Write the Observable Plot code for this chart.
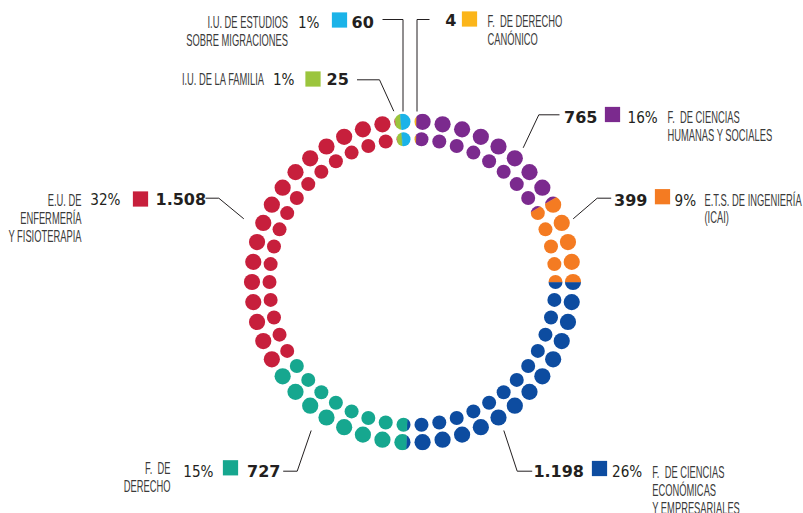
<!DOCTYPE html>
<html>
<head>
<meta charset="utf-8">
<script src="https://cdn.jsdelivr.net/npm/d3@7"></script>
<script src="https://cdn.jsdelivr.net/npm/@observablehq/plot@0.6"></script>
<style>
  html, body { margin: 0; padding: 0; background: #fff; }
  svg text { white-space: pre; }
</style>
</head>
<body>
<div id="chart"></div>
<script>
// ---------------- DATA (pie order, clockwise from 12 o'clock) ----------------
const categories = [
  "F.  DE DERECHO\nCANÓNICO",
  "F.  DE CIENCIAS\nHUMANAS Y SOCIALES",
  "E.T.S. DE INGENIERÍA\n(ICAI)",
  "F.  DE CIENCIAS\nECONÓMICAS\nY EMPRESARIALES",
  "F.  DE\nDERECHO",
  "E.U. DE\nENFERMERÍA\nY FISIOTERAPIA",
  "I.U. DE LA FAMILIA",
  "I.U. DE ESTUDIOS\nSOBRE MIGRACIONES"
];
const values = [4, 765, 399, 1198, 727, 1508, 25, 60];
const valueLabels = ["4", "765", "399", "1.198", "727", "1.508", "25", "60"];
const percentLabels = ["", "16%", "9%", "26%", "15%", "32%", "1%", "1%"];
const colors = ["#fbb51a", "#7b2a8e", "#f47b22", "#0d4ca0", "#16a78f", "#c71f3c", "#9bc53d", "#1bb3e8"];

// ---------------- LAYOUT (chart units = pixels) ----------------
const W = 803, H = 513;
const CX = 412, CY = 281.5;
const R_OUT = 160.5, R_IN = 143, DOT_OUT = 8.1, DOT_IN = 7.0;
const N_DOTS = 50;
const START = 0.45, MIN_ANGLE = 1.0;
const FS = 16, LH = 1.125;

// annotation placement per category (same order as categories)
const layout = [
  {side: "R", sq: [469, 18.5],  numAt: [456, 25.5],   pctAt: null,         nameAt: [487, 26.5],   leader: [[429, 19], [416.5, 19], [416.5, 111]]},
  {side: "R", sq: [612, 114],   numAt: [597, 122],    pctAt: [627, 122],   nameAt: [667, 122.3],  leader: [[559, 114.3], [538.3, 114.3], [522.7, 147.3]]},
  {side: "R", sq: [662, 196.2], numAt: [647, 205],    pctAt: [674, 205],   nameAt: [704, 205],    leader: [[610.7, 197.7], [596.7, 197.7], [572.7, 218.3]]},
  {side: "R", sq: [599, 468],   numAt: [583.5, 476],  pctAt: [611.5, 476], nameAt: [651.7, 477.3],leader: [[531.7, 470.7], [516.7, 470.7], [503.3, 430]]},
  {side: "L", sq: [230, 467.3], numAt: [246.5, 476],  pctAt: [213, 476],   nameAt: [170, 473.3],  leader: [[282.7, 470.7], [296.7, 470.7], [310.7, 430]]},
  {side: "L", sq: [140, 198.5], numAt: [155, 204.5],  pctAt: [120, 204.5], nameAt: [81, 205.5],   leader: [[205, 197.7], [218.3, 197.7], [243.3, 218.3]]},
  {side: "L", sq: [312.5, 78.5],numAt: [326, 84],     pctAt: [294, 84],    nameAt: [263.5, 84],   leader: [[356.5, 79.3], [379, 79.3], [393.3, 110.7]]},
  {side: "L", sq: [339, 19.5],  numAt: [351, 27],     pctAt: [319, 27],    nameAt: [287.5, 27.3], leader: [[382, 19], [402.5, 19], [402.5, 111]]}
];

// ---------------- DERIVED GEOMETRY ----------------
const rad = d => d * Math.PI / 180;
const polar = (deg, r) => [CX + r * Math.sin(rad(deg)), CY - r * Math.cos(rad(deg))];
const total = d3.sum(values);

let acc = START;
const slices = values.map((v, i) => {
  const a0 = acc, a1 = a0 + 360 * v / total;
  acc = a1;
  return {cat: categories[i], a0, a1};
});
for (let i = 0; i < slices.length; i++) {
  if (slices[i].a1 - slices[i].a0 < MIN_ANGLE) {
    slices[i].a1 = slices[i].a0 + MIN_ANGLE;
    if (i + 1 < slices.length) slices[i + 1].a0 = slices[i].a1;
  }
}
const wedgePts = slices.flatMap(s => {
  const pts = [{cat: s.cat, x: CX, y: CY}];
  const n = Math.max(2, Math.ceil((s.a1 - s.a0) / 0.5) + 1);
  for (let k = 0; k < n; k++) {
    const t = s.a0 + (s.a1 - s.a0) * k / (n - 1);
    const [x, y] = polar(t, 185);
    pts.push({cat: s.cat, x, y});
  }
  pts.push({cat: s.cat, x: CX, y: CY});
  return pts;
});

const dots = d3.range(N_DOTS).flatMap(k => {
  const t = (k + 0.5) * 360 / N_DOTS;
  return [[R_OUT, DOT_OUT], [R_IN, DOT_IN]].map(([R, r]) => {
    const [x, y] = polar(t, R);
    return {x, y, r};
  });
});

const rows = categories.map((cat, i) => ({cat, valueLabel: valueLabels[i], pctLabel: percentLabels[i], ...layout[i]}));
const leaderPts = rows.flatMap((d, i) => d.leader.map(([x, y]) => ({id: i, x, y})));
const R = rows.filter(d => d.side === "R"), L = rows.filter(d => d.side === "L");

// ---------------- RENDER HELPERS ----------------
const NS = "http://www.w3.org/2000/svg";
const squeeze = k => (index, scales, vals, dims, ctx, next) => {
  const g = next(index, scales, vals, dims, ctx);
  for (const t of g.querySelectorAll("text")) {
    t.setAttribute("transform", (t.getAttribute("transform") || "") + ` scale(${k},1)`);
  }
  return g;
};
const asClip = (index, scales, vals, dims, ctx, next) => {
  const g = next(index, scales, vals, dims, ctx);
  const defs = document.createElementNS(NS, "defs");
  const cp = document.createElementNS(NS, "clipPath");
  cp.setAttribute("id", "dot-clip");
  for (const c of Array.from(g.childNodes)) cp.appendChild(c);
  defs.appendChild(cp);
  return defs;
};
const clipped = (index, scales, vals, dims, ctx, next) => {
  const g = next(index, scales, vals, dims, ctx);
  g.setAttribute("clip-path", "url(#dot-clip)");
  return g;
};

const numStyle = {fontFamily: "DejaVu Sans", fontWeight: "bold", fontSize: FS, fill: "#231f20", lineAnchor: "bottom"};
const pctStyle = {fontFamily: "DejaVu Sans", fontSize: FS, fill: "#231f20", lineAnchor: "bottom", render: squeeze(0.85)};
const nameStyle = {fontFamily: "Liberation Sans", fontSize: FS, fill: "#3a3a3a", lineAnchor: "top", lineHeight: LH, render: squeeze(0.585)};
const nameY = d => d.nameAt[1] - 0.71 * LH * FS;

const chart = Plot.plot({
  width: W, height: H, margin: 0,
  style: {background: "#fff"},
  x: {domain: [0, W], range: [0, W], axis: null},
  y: {domain: [0, H], range: [0, H], axis: null},
  r: {type: "identity"},
  color: {domain: categories, range: colors},
  marks: [
    Plot.dot(dots, {x: "x", y: "y", r: "r", fill: "black", render: asClip}),
    Plot.line(wedgePts, {x: "x", y: "y", z: "cat", fill: "cat", stroke: "cat", strokeWidth: 0.5, render: clipped}),
    Plot.line(leaderPts, {x: "x", y: "y", z: "id", stroke: "#231f20", strokeWidth: 1, strokeLinecap: "butt", strokeLinejoin: "miter"}),
    Plot.dot(rows, {x: d => d.sq[0], y: d => d.sq[1], symbol: "square", r: 8.6, fill: "cat"}),
    Plot.text(R, {x: d => d.numAt[0], y: d => d.numAt[1], text: "valueLabel", textAnchor: "end", ...numStyle}),
    Plot.text(L, {x: d => d.numAt[0], y: d => d.numAt[1], text: "valueLabel", textAnchor: "start", ...numStyle}),
    Plot.text(R.filter(d => d.pctAt), {x: d => d.pctAt[0], y: d => d.pctAt[1], text: "pctLabel", textAnchor: "start", ...pctStyle}),
    Plot.text(L.filter(d => d.pctAt), {x: d => d.pctAt[0], y: d => d.pctAt[1], text: "pctLabel", textAnchor: "end", ...pctStyle}),
    Plot.text(R, {x: d => d.nameAt[0], y: nameY, text: "cat", textAnchor: "start", ...nameStyle}),
    Plot.text(L, {x: d => d.nameAt[0], y: nameY, text: "cat", textAnchor: "end", ...nameStyle})
  ]
});
document.getElementById("chart").appendChild(chart);
</script>
</body>
</html>
